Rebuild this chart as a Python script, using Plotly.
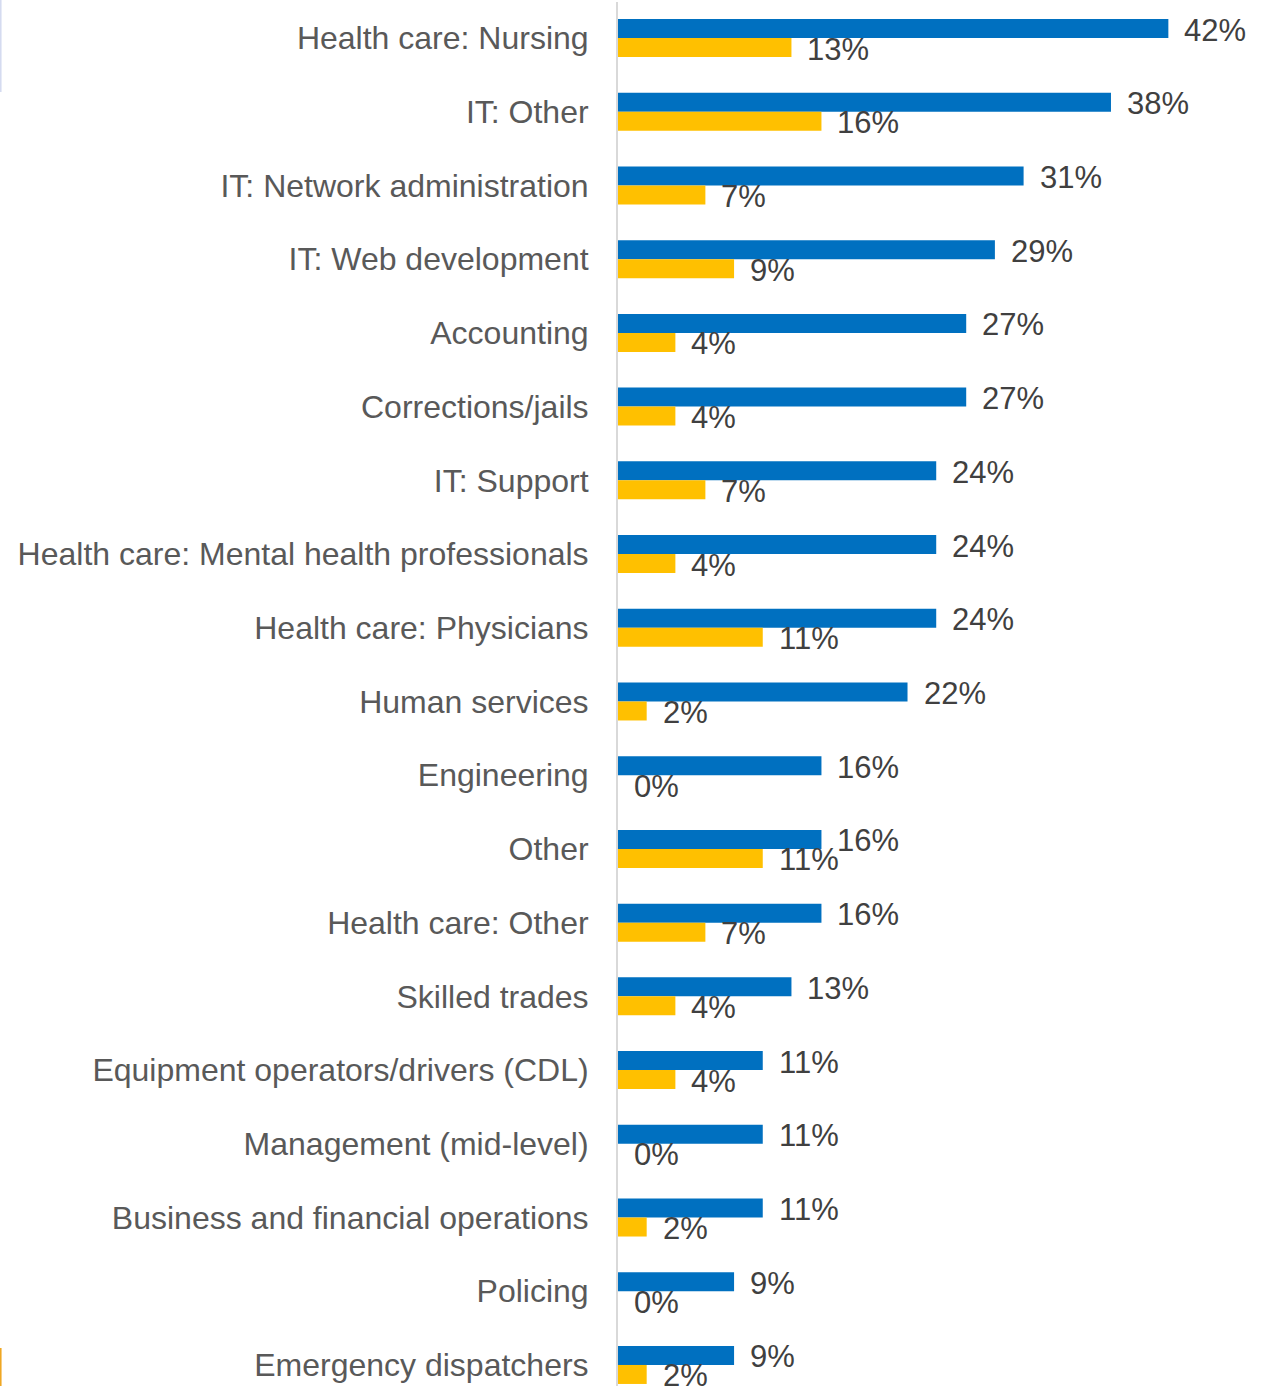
import plotly.graph_objects as go

categories = [
    "Health care: Nursing",
    "IT: Other",
    "IT: Network administration",
    "IT: Web development",
    "Accounting",
    "Corrections/jails",
    "IT: Support",
    "Health care: Mental health professionals",
    "Health care: Physicians",
    "Human services",
    "Engineering",
    "Other",
    "Health care: Other",
    "Skilled trades",
    "Equipment operators/drivers (CDL)",
    "Management (mid-level)",
    "Business and financial operations",
    "Policing",
    "Emergency dispatchers",
]
series_blue = [42.2, 37.8, 31.1, 28.9, 26.7, 26.7, 24.4, 24.4, 24.4, 22.2,
               15.6, 15.6, 15.6, 13.3, 11.1, 11.1, 11.1, 8.9, 8.9]
series_yellow = [13.3, 15.6, 6.7, 8.9, 4.4, 4.4, 6.7, 4.4, 11.1, 2.2,
                 0.0, 11.1, 6.7, 4.4, 4.4, 0.0, 2.2, 0.0, 2.2]

BLUE = "#0070C0"
YELLOW = "#FFC000"
FONT = "Arial, Liberation Sans, sans-serif"

W, H = 1267, 1386
L, R, T, B = 618, 23, 2, 0
XMAX = 48.0
band = 73.72
y_top = -38.0 / band + T / band
y_bot = y_top + (H - T - B) / band

fig = go.Figure()
fig.add_trace(go.Bar(y=categories, x=series_blue, orientation="h",
                     marker=dict(color=BLUE, line=dict(width=0)), name="A"))
fig.add_trace(go.Bar(y=categories, x=series_yellow, orientation="h",
                     marker=dict(color=YELLOW, line=dict(width=0)), name="B"))

annotations = []
for c, b, y in zip(categories, series_blue, series_yellow):
    annotations.append(dict(x=b, y=c, xref="x", yref="y", text=f"{b:.0f}%",
                            showarrow=False, xanchor="left", yanchor="middle",
                            xshift=14, yshift=8,
                            font=dict(family=FONT, size=31, color="#404040")))
    annotations.append(dict(x=y, y=c, xref="x", yref="y", text=f"{y:.0f}%",
                            showarrow=False, xanchor="left", yanchor="middle",
                            xshift=14, yshift=-11,
                            font=dict(family=FONT, size=31, color="#404040")))

pw = W - L - R
ph = H - T - B
def px_x(px):
    return (px - L) / pw
def px_y(py):
    return 1 - (py - T) / ph

shapes = [
    dict(type="line", xref="paper", yref="paper", x0=px_x(0.8), x1=px_x(0.8),
         y0=px_y(0), y1=px_y(92), line=dict(color="#D3DAF0", width=1.5)),
    dict(type="line", xref="paper", yref="paper", x0=px_x(0.8), x1=px_x(0.8),
         y0=px_y(1348), y1=px_y(1386), line=dict(color="#EFA31A", width=1.5)),
]

fig.update_layout(
    width=W, height=H,
    margin=dict(l=L, r=R, t=T, b=B, autoexpand=False),
    paper_bgcolor="white", plot_bgcolor="white",
    barmode="group", bargap=0.4845, bargroupgap=0,
    showlegend=False,
    annotations=annotations,
    shapes=shapes,
    font=dict(family=FONT),
)
fig.update_xaxes(range=[0, XMAX], visible=False, showgrid=False, zeroline=False)
fig.update_yaxes(type="category", range=[y_bot, y_top], showgrid=False,
                 zeroline=False, showline=True, linecolor="#D9D9D9", linewidth=2,
                 ticks="", ticklabelstandoff=21, automargin=False,
                 tickfont=dict(family=FONT, size=32, color="#595959"))

fig.write_html("out.html",
               config={"displayModeBar": False},
               post_script="document.body.style.margin='0';document.body.style.overflow='hidden';")
